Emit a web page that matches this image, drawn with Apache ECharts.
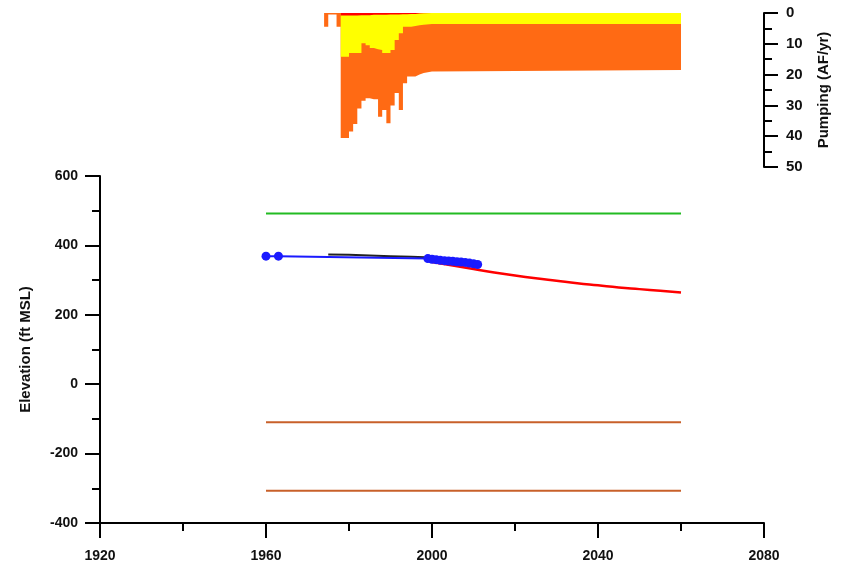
<!DOCTYPE html>
<html>
<head>
<meta charset="utf-8">
<script src="https://cdn.jsdelivr.net/npm/echarts@6/dist/echarts.min.js"></script>
<style>html,body{margin:0;padding:0;background:#fff;}#c{width:841px;height:573px;}</style>
</head>
<body>
<div id="c"></div>
<script>
// ---- Pumping (top panel), step data: value holds from its year to the next year listed
const pumpYears  = [1974,1975,1977,1978,1979,1980,1981,1982,1983,1984,1985,1986,1987,1988,1989,1990,1991,1992,1993,1994,1995,1996,1997,1998,2000,2060];
const pumpRed    = [0,0,0,0.8,0.8,0.8,0.8,0.7,0.7,0.7,0.6,0.6,0.6,0.6,0.5,0.5,0.5,0.4,0.4,0.3,0.3,0.2,0.1,0,0,0];
const pumpYellow = [0,0,0,13.4,13.4,12.2,12.2,12.3,9.1,9.8,10.8,11.2,11.4,12.4,12.5,11.5,8.3,6.2,4.1,4.2,3.9,3.8,3.7,3.6,3.6,3.6];
const pumpOrange = [4.5,0.5,4.5,26.4,26.4,25.5,23,18,18.7,17.2,16.6,16.2,21.7,18.5,22.8,18,17.2,24.9,18.3,16.1,16.4,16,15.7,15.4,14.9,14.9];

// ---- Elevation (main panel)
const refYears = [1960, 2060];
const greenLevel = [492, 492];
const brownLevel1 = [-110, -110];
const brownLevel2 = [-307, -307];
const redYears = [2000,2005,2010,2015,2020,2025,2030,2035,2040,2045,2050,2055,2060];
const redVals  = [352,342,332,322,313,305,298,291,285,279,274,269,264];
const blackYears = [1975,1980,1985,1990,1995,2000,2001];
const blackVals  = [374,373,371,369,367,365,364];
const blueYears = [1960,1963,1999,2000,2001,2002,2003,2004,2005,2006,2007,2008,2009,2010,2011];
const blueVals  = [369,369,362,360,359,357,356,355,354,353,352,351,349,347,345];

const xTicks = [1920,1960,2000,2040,2080];
const elevTicks = [-400,-200,0,200,400,600];
const pumpTicks = [0,10,20,30,40,50];

const zip = (a,b) => a.map((v,i)=>[v,b[i]]);
// cumulative stacks (red on top, then yellow, then orange) – drawn as areas filled to 0
const cumRed = pumpRed.slice();
const cumYellow = pumpRed.map((v,i)=>v+pumpYellow[i]);
const cumOrange = cumYellow.map((v,i)=>v+pumpOrange[i]);

const font = 'Liberation Sans';
const lbl = {fontFamily:font,fontWeight:'bold',fontSize:14,color:'#111',formatter:v=>String(v)};
const axLine = {show:true,onZero:false,lineStyle:{color:'#000',width:2}};

const chart = echarts.init(document.getElementById('c'));
chart.setOption({
  animation:false,
  backgroundColor:'#fff',
  grid:[
    {left:100,right:77,top:176,height:347},
    {left:100,right:77,top:13,height:154}
  ],
  xAxis:[
    {type:'value',gridIndex:0,min:xTicks[0],max:xTicks[xTicks.length-1],interval:40,
     axisLine:axLine,axisTick:{show:true,length:15,lineStyle:{color:'#000',width:2}},
     minorTick:{show:true,splitNumber:2,length:8,lineStyle:{color:'#000',width:2}},
     splitLine:{show:false},axisLabel:Object.assign({},lbl,{margin:26})},
    {type:'value',gridIndex:1,min:xTicks[0],max:xTicks[xTicks.length-1],show:false}
  ],
  yAxis:[
    {type:'value',gridIndex:0,min:elevTicks[0],max:elevTicks[elevTicks.length-1],interval:200,
     name:'Elevation (ft MSL)',nameLocation:'middle',nameGap:67,
     nameTextStyle:{fontFamily:font,fontWeight:'bold',fontSize:15,color:'#111'},
     axisLine:axLine,axisTick:{show:true,length:15,lineStyle:{color:'#000',width:2}},
     minorTick:{show:true,splitNumber:2,length:8,lineStyle:{color:'#000',width:2}},
     splitLine:{show:false},axisLabel:Object.assign({},lbl,{margin:22})},
    {type:'value',gridIndex:1,position:'right',inverse:true,min:pumpTicks[0],max:pumpTicks[pumpTicks.length-1],interval:10,
     name:'Pumping (AF/yr)',nameLocation:'middle',nameGap:52,nameRotate:90,
     nameTextStyle:{fontFamily:font,fontWeight:'bold',fontSize:15,color:'#111'},
     axisLine:axLine,axisTick:{show:true,length:14,lineStyle:{color:'#000',width:2}},
     minorTick:{show:true,splitNumber:2,length:8,lineStyle:{color:'#000',width:2}},
     splitLine:{show:false},axisLabel:Object.assign({},lbl,{margin:22,fontSize:15})}
  ],
  series:[
    {type:'line',xAxisIndex:1,yAxisIndex:1,step:'end',symbol:'none',
     lineStyle:{width:0},areaStyle:{color:'#ff6a14',opacity:1,origin:'start'},data:zip(pumpYears,cumOrange)},
    {type:'line',xAxisIndex:1,yAxisIndex:1,step:'end',symbol:'none',
     lineStyle:{width:0},areaStyle:{color:'#ffff00',opacity:1,origin:'start'},data:zip(pumpYears,cumYellow)},
    {type:'line',xAxisIndex:1,yAxisIndex:1,step:'end',symbol:'none',
     lineStyle:{width:0},areaStyle:{color:'#ff0000',opacity:1,origin:'start'},data:zip(pumpYears,cumRed)},

    {type:'line',symbol:'none',lineStyle:{color:'#22bb22',width:2},data:zip(refYears,greenLevel)},
    {type:'line',symbol:'none',lineStyle:{color:'#c8602a',width:2},data:zip(refYears,brownLevel1)},
    {type:'line',symbol:'none',lineStyle:{color:'#c8602a',width:2},data:zip(refYears,brownLevel2)},
    {type:'line',symbol:'none',smooth:true,lineStyle:{color:'#ff0000',width:2.5},data:zip(redYears,redVals)},
    {type:'line',symbol:'none',lineStyle:{color:'#222222',width:2},data:zip(blackYears,blackVals)},
    {type:'line',symbol:'circle',symbolSize:9,showAllSymbol:true,itemStyle:{color:'#1a1aff'},
     lineStyle:{color:'#1a1aff',width:2},data:zip(blueYears,blueVals)}
  ]
});
</script>
</body>
</html>
